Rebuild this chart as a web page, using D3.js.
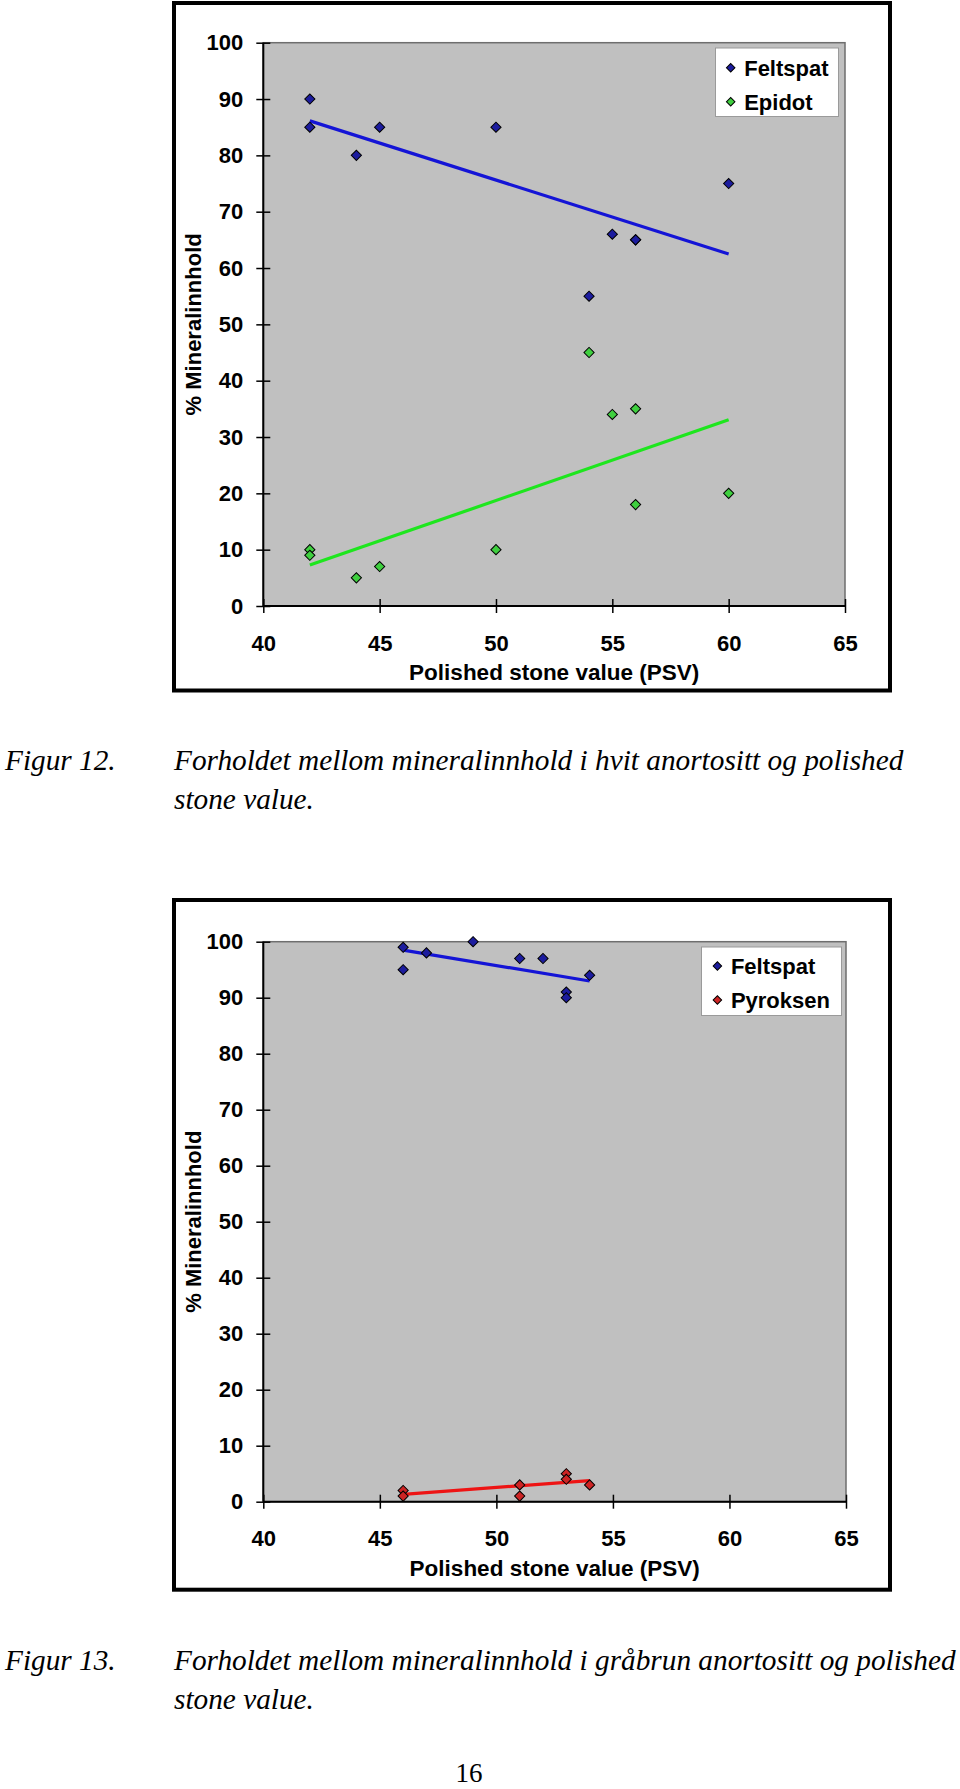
<!DOCTYPE html>
<html>
<head>
<meta charset="utf-8">
<script src="https://cdn.jsdelivr.net/npm/d3@7"></script>
<style>
  body { margin: 0; background: #fff; }
  svg { display: block; }
  .tick text { font-family: "Liberation Sans", Arial, sans-serif; font-weight: bold; font-size: 22px; fill: #000; }
</style>
</head>
<body>
<script>
// page size
var svgWidth = 960;
var svgHeight = 1789;

// ---- data ----
// Figur 12: hvit anortositt
var psv12 = [42, 42, 44, 45, 50, 54, 55, 56, 56, 60];
var feltspat12 = [90, 85, 80, 85, 85, 55, 66, 65, 65, 75];
var epidot12 = [10, 9, 5, 7, 10, 45, 34, 35, 18, 20];

// Figur 13: gråbrun anortositt
var psv13Feltspat = [46, 46, 47, 49, 51, 52, 53, 53, 54];
var feltspat13 = [99, 95, 98, 100, 97, 97, 91, 90, 94];
var psv13Pyroksen = [46, 46, 51, 51, 53, 53, 54];
var pyroksen13 = [2, 1, 3, 1, 5, 4, 3];

var xTicks = [40, 45, 50, 55, 60, 65];
var yTicks = [0, 10, 20, 30, 40, 50, 60, 70, 80, 90, 100];
var xTitle = "Polished stone value (PSV)";
var yTitle = "% Mineralinnhold";

var captions = [
  { num: "Figur 12.", lines: ["Forholdet mellom mineralinnhold i hvit anortositt og polished", "stone value."] },
  { num: "Figur 13.", lines: ["Forholdet mellom mineralinnhold i gråbrun anortositt og polished", "stone value."] }
];
var pageNumber = "16";

var svg = d3.select("body")
    .append("svg")
    .attr("width", svgWidth)
    .attr("height", svgHeight);

// least squares line, like the excel trendline
function trend(xs, ys) {
    var mx = d3.mean(xs), my = d3.mean(ys);
    var sxy = d3.sum(xs, (x, i) => (x - mx) * (ys[i] - my));
    var sxx = d3.sum(xs, x => (x - mx) * (x - mx));
    var b = sxy / sxx;
    var x0 = d3.min(xs), x1 = d3.max(xs);
    return [[x0, my + b * (x0 - mx)], [x1, my + b * (x1 - mx)]];
}

function drawChart(opts) {
    var g = svg.append("g");

    // outer frame
    g.append("rect")
        .attr("x", opts.frame[0])
        .attr("y", opts.frame[1])
        .attr("width", opts.frame[2] - opts.frame[0])
        .attr("height", opts.frame[3] - opts.frame[1])
        .attr("fill", "none")
        .attr("stroke", "#000")
        .attr("stroke-width", 4);

    var xScale = d3.scaleLinear().domain([40, 65]).range([opts.left, opts.right]);
    var yScale = d3.scaleLinear().domain([0, 100]).range([opts.bottom, opts.top]);

    // plot area
    g.append("rect")
        .attr("x", opts.left)
        .attr("y", opts.top)
        .attr("width", opts.right - opts.left)
        .attr("height", opts.bottom - opts.top)
        .attr("fill", "#c0c0c0")
        .attr("stroke", "#6e6e6e")
        .attr("stroke-width", 1.5);

    var xAxis = d3.axisBottom(xScale).tickValues(xTicks).tickSize(7).tickPadding(22);
    var gx = g.append("g")
        .attr("class", "x-axis")
        .attr("transform", `translate(0,${opts.bottom})`)
        .call(xAxis);
    gx.selectAll(".tick line").attr("y1", -7).attr("stroke", "#000").attr("stroke-width", 1.5);
    gx.select(".domain").attr("stroke", "#000").attr("stroke-width", 2).attr("d", `M${opts.left},0H${opts.right}`);
    gx.selectAll(".tick text").attr("y", 29).attr("dy", "0.71em");

    var yAxis = d3.axisLeft(yScale).tickValues(yTicks).tickSize(7).tickPadding(13);
    var gy = g.append("g")
        .attr("class", "y-axis")
        .attr("transform", `translate(${opts.left},0)`)
        .call(yAxis);
    gy.selectAll(".tick line").attr("x1", 7).attr("stroke", "#000").attr("stroke-width", 1.5);
    gy.select(".domain").attr("stroke", "#000").attr("stroke-width", 2).attr("d", `M0,${opts.bottom}V${opts.top}`);

    // axis titles
    g.append("text")
        .attr("x", (opts.left + opts.right) / 2)
        .attr("y", opts.bottom + 74)
        .attr("text-anchor", "middle")
        .style("font-family", "'Liberation Sans', Arial, sans-serif")
        .style("font-weight", "bold")
        .style("font-size", "22.5px")
        .text(xTitle);

    g.append("text")
        .attr("transform", `translate(201,${(opts.top + opts.bottom) / 2}) rotate(-90)`)
        .attr("text-anchor", "middle")
        .style("font-family", "'Liberation Sans', Arial, sans-serif")
        .style("font-weight", "bold")
        .style("font-size", "22px")
        .text(yTitle);

    var line = d3.line().x(d => xScale(d[0])).y(d => yScale(d[1]));
    var marker = d3.symbol(d3.symbolSquare, 52);

    // trendlines under the markers
    opts.series.forEach(function(s) {
        g.append("path")
            .attr("d", line(trend(s.x, s.y)))
            .attr("fill", "none")
            .attr("stroke", s.lineColor)
            .attr("stroke-width", 3.2);
    });
    opts.series.forEach(function(s) {
        var pts = s.x.map((x, i) => [x, s.y[i]]);
        g.append("g")
            .selectAll("path")
            .data(pts)
            .enter()
            .append("path")
            .attr("d", marker)
            .attr("transform", d => `translate(${xScale(d[0])},${yScale(d[1])}) rotate(45)`)
            .attr("fill", s.color)
            .attr("stroke", "#000")
            .attr("stroke-width", 1);
    });

    // legend
    var lg = g.append("g");
    lg.append("rect")
        .attr("x", opts.legend[0])
        .attr("y", opts.legend[1])
        .attr("width", opts.legend[2] - opts.legend[0])
        .attr("height", opts.legend[3] - opts.legend[1])
        .attr("fill", "#fff")
        .attr("stroke", "#9a9a9a")
        .attr("stroke-width", 1);
    opts.series.forEach(function(s, i) {
        var cy = opts.legendRows[i];
        lg.append("path")
            .attr("d", d3.symbol(d3.symbolSquare, 36)())
            .attr("transform", `translate(${opts.legendMarkerX},${cy}) rotate(45)`)
            .attr("fill", s.color)
            .attr("stroke", "#000")
            .attr("stroke-width", 1);
        lg.append("text")
            .attr("x", opts.legendMarkerX + 13.5)
            .attr("y", cy + 8)
            .style("font-family", "'Liberation Sans', Arial, sans-serif")
            .style("font-weight", "bold")
            .style("font-size", "22px")
            .text(s.name);
    });
}

drawChart({
    frame: [174, 3, 890, 690.5],
    left: 263.3, right: 845, top: 42.7, bottom: 606,
    legend: [715.5, 48, 838.5, 116.5],
    legendMarkerX: 730.7,
    legendRows: [67.7, 101.7],
    series: [
        { name: "Feltspat", x: psv12, y: feltspat12, color: "#1c1c9e", lineColor: "#1414d6" },
        { name: "Epidot", x: psv12, y: epidot12, color: "#3fcf3f", lineColor: "#1ee61e" }
    ]
});

drawChart({
    frame: [174, 900, 890, 1589.7],
    left: 263.3, right: 846, top: 941.7, bottom: 1501.7,
    legend: [701.5, 947, 841.5, 1015.5],
    legendMarkerX: 717.4,
    legendRows: [966, 1000],
    series: [
        { name: "Feltspat", x: psv13Feltspat, y: feltspat13, color: "#1c1c9e", lineColor: "#1414d6" },
        { name: "Pyroksen", x: psv13Pyroksen, y: pyroksen13, color: "#cc2424", lineColor: "#ee1414" }
    ]
});

// figure captions
var capTop = [770, 1670];
captions.forEach(function(c, i) {
    var cg = svg.append("g")
        .style("font-family", "'Liberation Serif', 'Times New Roman', serif")
        .style("font-style", "italic")
        .style("font-size", "29.3px");
    cg.append("text").attr("x", 5).attr("y", capTop[i]).text(c.num);
    cg.selectAll("text.line")
        .data(c.lines)
        .enter()
        .append("text")
        .attr("class", "line")
        .attr("x", 174)
        .attr("y", (d, j) => capTop[i] + j * 39)
        .text(d => d);
});

svg.append("text")
    .attr("x", 469)
    .attr("y", 1782)
    .attr("text-anchor", "middle")
    .style("font-family", "'Liberation Serif', 'Times New Roman', serif")
    .style("font-size", "27px")
    .text(pageNumber);
</script>
</body>
</html>
